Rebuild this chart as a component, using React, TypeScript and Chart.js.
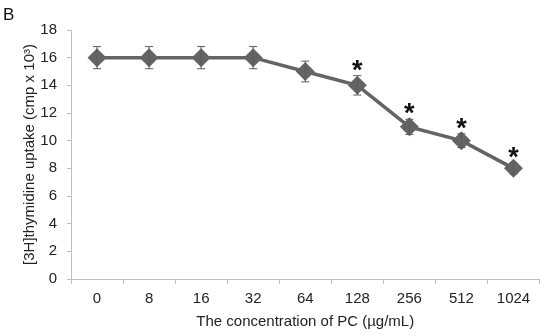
import React, { useEffect, useRef } from "react";
import { Chart, registerables } from "chart.js";

Chart.register(...registerables);

const categories = ["0", "8", "16", "32", "64", "128", "256", "512", "1024"];
const uptake = [16, 16, 16, 16, 15, 14, 11, 10, 8];
const errors = [0.8, 0.8, 0.8, 0.8, 0.75, 0.7, 0.55, 0.5, 0.4];
const significant = [false, false, false, false, false, true, true, true, true];
const yTicks = [0, 2, 4, 6, 8, 10, 12, 14, 16, 18];

const FONT = "'Liberation Sans', Arial, sans-serif";

const errorBarPlugin = {
  id: "errorBars",
  afterDatasetsDraw(chart: any) {
    const { ctx, scales } = chart;
    const meta = chart.getDatasetMeta(0);
    const y = scales.y;
    ctx.save();
    ctx.strokeStyle = "#5a5a5a";
    ctx.lineWidth = 1;
    meta.data.forEach((pt: any, i: number) => {
      const x = pt.x;
      const top = y.getPixelForValue(uptake[i] + errors[i]);
      const bot = y.getPixelForValue(uptake[i] - errors[i]);
      ctx.beginPath();
      ctx.moveTo(x, top);
      ctx.lineTo(x, bot);
      ctx.moveTo(x - 4, top);
      ctx.lineTo(x + 4, top);
      ctx.moveTo(x - 4, bot);
      ctx.lineTo(x + 4, bot);
      ctx.stroke();
      if (significant[i]) {
        ctx.fillStyle = "#111";
        ctx.font = `bold 27px ${FONT}`;
        ctx.textAlign = "center";
        ctx.textBaseline = "alphabetic";
        ctx.fillText("*", x, top + 3);
      }
    });
    ctx.restore();
  },
};

const labelPlugin = {
  id: "panelLabel",
  afterDraw(chart: any) {
    const { ctx } = chart;
    ctx.save();
    ctx.fillStyle = "#111";
    ctx.font = `17px ${FONT}`;
    ctx.textBaseline = "alphabetic";
    ctx.textAlign = "left";
    ctx.fillText("B", 3, 20);
    ctx.restore();
  },
};

export default function App() {
  const ref = useRef<HTMLCanvasElement>(null);
  useEffect(() => {
    if (!ref.current) return;
    const chart = new Chart(ref.current, {
      type: "line",
      data: {
        labels: categories,
        datasets: [
          {
            data: uptake,
            borderColor: "#646464",
            backgroundColor: "#646464",
            borderWidth: 3.5,
            pointStyle: "rectRot",
            pointRadius: 7,
            pointHoverRadius: 7,
            pointBackgroundColor: "#646464",
            pointBorderColor: "#646464",
            tension: 0,
          },
        ],
      },
      options: {
        animation: false,
        responsive: false,
        maintainAspectRatio: false,
        events: [],
        layout: { padding: { left: 0, right: 7, top: 30, bottom: 0 } },
        plugins: {
          legend: { display: false },
          tooltip: { enabled: false },
        },
        scales: {
          x: {
            type: "category",
            offset: true,
            afterFit: (axis: any) => {
              axis.height = 57;
            },
            grid: {
              offset: true,
              drawOnChartArea: false,
              drawTicks: true,
              tickLength: 5,
              color: "#bfbfbf",
            },
            border: { color: "#bfbfbf", width: 1 },
            ticks: {
              color: "#222",
              font: { family: FONT, size: 15 },
              padding: 6,
              maxRotation: 0,
            },
            title: {
              display: true,
              text: "The concentration of PC (µg/mL)",
              color: "#222",
              font: { family: FONT, size: 15 },
              padding: { top: 0, bottom: 5 },
            },
          },
          y: {
            min: 0,
            max: 18,
            afterFit: (axis: any) => {
              axis.width = 71;
            },
            afterBuildTicks: (axis: any) => {
              axis.ticks = yTicks.map((v) => ({ value: v }));
            },
            grid: {
              drawOnChartArea: false,
              drawTicks: true,
              tickLength: 4,
              color: "#bfbfbf",
            },
            border: { color: "#bfbfbf", width: 1 },
            ticks: {
              color: "#222",
              font: { family: FONT, size: 15 },
              padding: 10,
            },
            title: {
              display: true,
              text: "[3H]thymidine uptake (cmp x 10³)",
              color: "#222",
              font: { family: FONT, size: 15 },
              padding: { top: 21, bottom: 0 },
            },
          },
        },
      },
      plugins: [errorBarPlugin, labelPlugin],
    });
    return () => chart.destroy();
  }, []);
  return (
    <div style={{ position: "fixed", left: 0, top: 0, width: 550, height: 336 }}>
      <canvas ref={ref} width={550} height={336} style={{ width: 550, height: 336 }} />
    </div>
  );
}
